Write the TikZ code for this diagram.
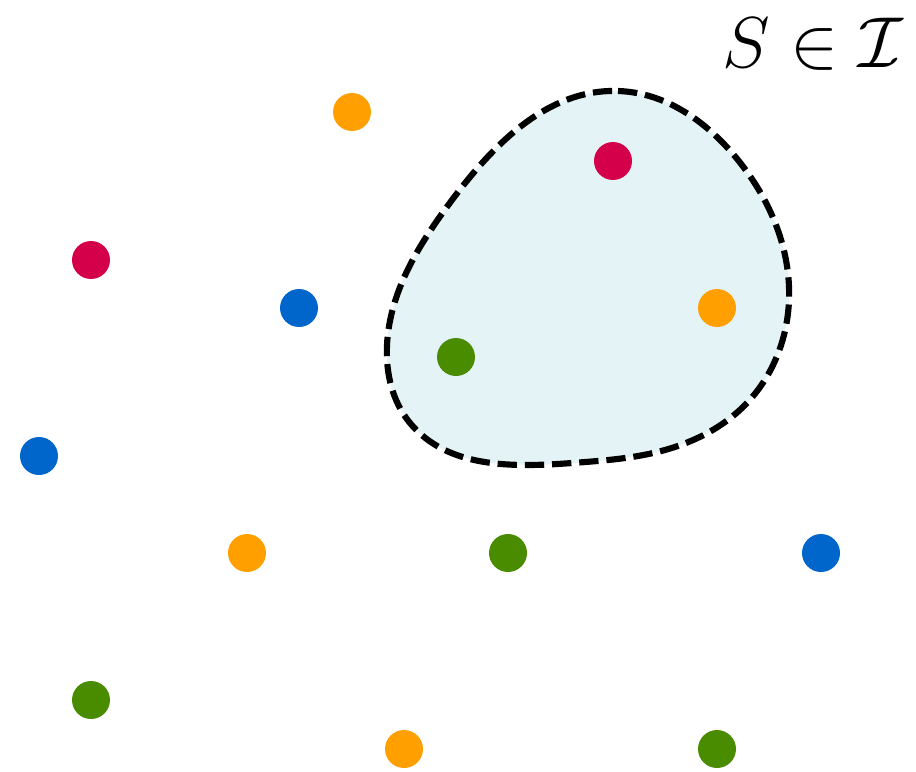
\documentclass[tikz,border=0pt]{standalone}
\usepackage{amsmath,amssymb}
\definecolor{setred}{RGB}{213,0,74}
\definecolor{setorange}{RGB}{255,159,0}
\definecolor{setblue}{RGB}{0,102,204}
\definecolor{setgreen}{RGB}{74,140,0}
\definecolor{setfill}{RGB}{228,243,246}
\usetikzlibrary{positioning,hobby}

\begin{document}
\begin{tikzpicture}[x=0.02cm,y=-0.02cm,
  elem/.style={circle,inner sep=0pt,minimum size=0.76cm},
  elemred/.style={elem,fill=setred},
  elemorange/.style={elem,fill=setorange},
  elemblue/.style={elem,fill=setblue},
  elemgreen/.style={elem,fill=setgreen},
  indep/.style={draw=black,fill=setfill,line width=3.5pt,dash pattern=on 11pt off 4.5pt}
]
  \useasboundingbox (0,0) rectangle (916,771);
  % independent set
  \draw[indep,use Hobby shortcut,closed=true]
    (618,91) .. (738,160) .. (789,300) .. (745,405) .. (665,450) .. (572,463)
    .. (410,423) .. (387,345) .. (452,200);
  \node[font=\Huge,scale=1.65,inner sep=0pt] (lbl) at (813,44) {$S \in \mathcal{I}$};
  % ground set
  \node[elemorange] (o1) at (352,112) {};
  \node[elemred] (r1) at (91,260) {};
  \node[elemblue] (b1) at (299,308) {};
  \node[elemblue] (b2) at (39,456) {};
  \node[elemorange] (o2) at (247,553) {};
  \node[elemgreen] (g1) at (508,553) {};
  \node[elemblue] (b3) at (821,553) {};
  \node[elemgreen] (g2) at (91,700) {};
  \node[elemorange] (o3) at (404,749) {};
  \node[elemgreen] (g3) at (717,749) {};
  % inside S
  \node[elemred] (r2) at (613,161) {};
  \node[elemorange] (o4) at (717,308) {};
  \node[elemgreen] (g4) at (456,357) {};
\end{tikzpicture}
\end{document}
